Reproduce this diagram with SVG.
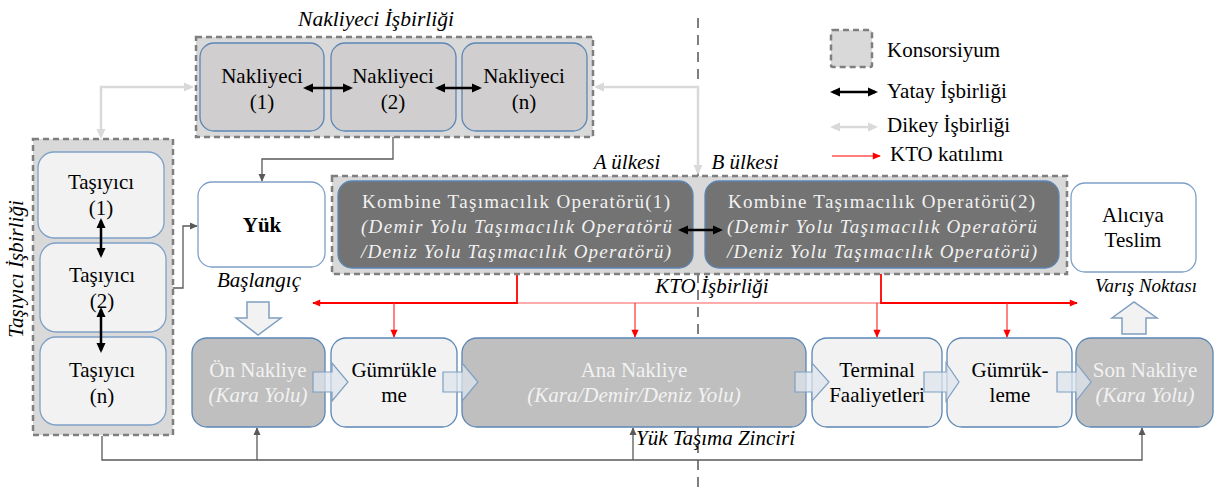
<svg xmlns="http://www.w3.org/2000/svg" width="1219" height="488" viewBox="0 0 1219 488" font-family="'Liberation Serif', Tinos, 'Times New Roman', 'Noto Serif', 'DejaVu Serif', serif">
<defs>
<style>
text { font-family: "Liberation Serif", Tinos, "Times New Roman", "Noto Serif", "DejaVu Serif", serif; font-size: 21px; fill: #000; }
.it { font-style: italic; }
.lt { fill: #f2f2f2; }
.c { text-anchor: middle; }
.kt { font-size: 19px; }
.cons { fill: #d9d9d9; stroke: #7f7f7f; stroke-width: 2.5; stroke-dasharray: 6 4; }
.bx { stroke: #5b86b5; stroke-width: 1.3; }
.bxl { stroke: #7da0c8; stroke-width: 1.3; }
.gray { fill: #bfbfbf; }
.pale { fill: #f2f2f2; }
.wh { fill: #ffffff; }
.dk { fill: #737373; }
.nk { fill: #d0cece; }
.blk { stroke: #000; stroke-width: 2.5; fill: none; marker-start: url(#mb); marker-end: url(#mb); }
.dik { stroke: #d9d9d9; stroke-width: 2.5; fill: none; marker-start: url(#mg); marker-end: url(#mg); }
.red { stroke: #ff0000; stroke-width: 1.8; fill: none; }
.pink { stroke: #ff9090; stroke-width: 1.5; fill: none; }
.redt { stroke: #ff3030; stroke-width: 1.2; fill: none; marker-end: url(#mr); }
.dg { stroke: #595959; stroke-width: 1.3; fill: none; }
.dga { marker-end: url(#md); }
.barrow { fill: #f2f2f2; stroke: #7f9fc0; stroke-width: 1.5; }
.chev { fill: #dde4ec; fill-opacity: 0.75; stroke: #7f9fc0; stroke-width: 1.2; }
</style>
<marker id="mb" viewBox="0 0 10 10" refX="7" refY="5" markerWidth="10" markerHeight="10" markerUnits="userSpaceOnUse" orient="auto-start-reverse"><path d="M0,0.5 L10,5 L0,9.5 Z" fill="#000"/></marker>
<marker id="mg" viewBox="0 0 10 10" refX="7" refY="5" markerWidth="11" markerHeight="10" markerUnits="userSpaceOnUse" orient="auto-start-reverse"><path d="M0,0.5 L10,5 L0,9.5 Z" fill="#d9d9d9"/></marker>
<marker id="mr" viewBox="0 0 10 10" refX="9" refY="5" markerWidth="9" markerHeight="8" markerUnits="userSpaceOnUse" orient="auto"><path d="M0,0.5 L10,5 L0,9.5 Z" fill="#ff0000"/></marker>
<marker id="md" viewBox="0 0 10 10" refX="9" refY="5" markerWidth="8" markerHeight="8" markerUnits="userSpaceOnUse" orient="auto"><path d="M0,0.5 L10,5 L0,9.5 Z" fill="#595959"/></marker>
</defs>

<rect width="1219" height="488" fill="#ffffff"/>

<!-- country divider -->
<line id="divider" x1="698" y1="18" x2="698" y2="488" stroke="#7f7f7f" stroke-width="2" stroke-dasharray="10 7"/>

<!-- connectors -->
<g id="connectors">
  <path class="dik" d="M191,87 H101 V136"/>
  <path class="dik" d="M597,87 H698 V172"/>
  <path class="dg dga" d="M393,137 V159 H262 V181"/>
  <path class="dg dga" d="M173,288 H183 V226 H197"/>
  <path class="dg dga" d="M102,436 V460 H1142 V428"/>
  <path class="dg dga" d="M257,460 V428"/>
  <path class="dg dga" d="M633,460 V428"/>
  <path class="pink" d="M517,303 H881"/>
  <path class="red" d="M517,268 V303 H313" marker-end="url(#mr)"/>
  <path class="red" d="M881,268 V303 H1077" marker-end="url(#mr)"/>
  <path class="redt" d="M394,303 V337"/>
  <path class="redt" d="M635,303 V337"/>
  <path class="redt" d="M877,303 V337"/>
  <path class="redt" d="M1007,303 V337"/>
</g>

<!-- Nakliyeci consortium -->
<g id="nakliyeci-konsorsiyum">
  <rect class="cons" x="196" y="37" width="397" height="100"/>
  <text class="it c" x="376" y="26" style="font-size:21.5px">Nakliyeci İşbirliği</text>
</g>
<g id="nakliyeci-1">
  <rect class="bx nk" x="200" y="43" width="124" height="88" rx="14"/>
  <text class="c" x="262" y="83">Nakliyeci</text>
  <text class="c" x="262" y="109">(1)</text>
</g>
<g id="nakliyeci-2">
  <rect class="bx nk" x="331" y="43" width="125" height="88" rx="14"/>
  <text class="c" x="393" y="83">Nakliyeci</text>
  <text class="c" x="393" y="109">(2)</text>
</g>
<g id="nakliyeci-n">
  <rect class="bx nk" x="462" y="43" width="125" height="88" rx="14"/>
  <text class="c" x="524" y="83">Nakliyeci</text>
  <text class="c" x="524" y="109">(n)</text>
</g>

<!-- Tasiyici consortium -->
<g id="tasiyici-konsorsiyum">
  <rect class="cons" x="33" y="139" width="140" height="296"/>
  <text class="it c" transform="translate(23,269) rotate(-90)">Taşıyıcı İşbirliği</text>
</g>
<g id="tasiyici-1">
  <rect class="bxl pale" x="38" y="152" width="126" height="86" rx="16"/>
  <text class="c" x="101" y="189">Taşıyıcı</text>
  <text class="c" x="101" y="215">(1)</text>
</g>
<g id="tasiyici-2">
  <rect class="bxl pale" x="40" y="243" width="126" height="89" rx="16"/>
  <text class="c" x="102" y="282">Taşıyıcı</text>
  <text class="c" x="102" y="308">(2)</text>
</g>
<g id="tasiyici-n">
  <rect class="bxl pale" x="40" y="337" width="126" height="88" rx="16"/>
  <text class="c" x="102" y="377">Taşıyıcı</text>
  <text class="c" x="102" y="403">(n)</text>
</g>
<path class="blk" d="M101,221 V255"/>
<path class="blk" d="M101,310 V350"/>
<path class="blk" d="M306,88 H350"/>
<path class="blk" d="M438,88 H479"/>

<!-- Yük -->
<g id="yuk">
  <rect class="bxl wh" x="198" y="182" width="127" height="85" rx="14"/>
  <text class="c" x="262" y="232" font-weight="bold">Yük</text>
</g>

<!-- KTO consortium -->
<g id="kto-konsorsiyum">
  <rect class="cons" x="332" y="176" width="735" height="98"/>
  <text class="it c" x="627" y="169">A ülkesi</text>
  <text class="it c" x="745" y="169">B ülkesi</text>
</g>
<g id="kto-1">
  <rect class="bx dk" x="338" y="181" width="355" height="87" rx="14"/>
  <text class="lt kt" x="362" y="208" textLength="308" lengthAdjust="spacing">Kombine Taşımacılık Operatörü(1)</text>
  <text class="lt kt it" x="361" y="233" textLength="311" lengthAdjust="spacing">(Demir Yolu Taşımacılık Operatörü</text>
  <text class="lt kt it" x="361" y="258" textLength="310" lengthAdjust="spacing">/Deniz Yolu Taşımacılık Operatörü)</text>
</g>
<g id="kto-2">
  <rect class="bx dk" x="705" y="181" width="354" height="87" rx="14"/>
  <text class="lt kt" x="728" y="208" textLength="307" lengthAdjust="spacing">Kombine Taşımacılık Operatörü(2)</text>
  <text class="lt kt it" x="727" y="233" textLength="310" lengthAdjust="spacing">(Demir Yolu Taşımacılık Operatörü</text>
  <text class="lt kt it" x="727" y="258" textLength="310" lengthAdjust="spacing">/Deniz Yolu Taşımacılık Operatörü)</text>
</g>
<path class="blk" d="M681,230 H720"/>

<!-- Alıcıya Teslim -->
<g id="aliciya-teslim">
  <rect class="bxl wh" x="1071" y="183" width="125" height="89" rx="14"/>
  <text class="c" x="1133" y="222">Alıcıya</text>
  <text class="c" x="1133" y="247">Teslim</text>
</g>

<text class="it c" x="259" y="287">Başlangıç</text>
<text class="it c" x="712" y="293">KTO İşbirliği</text>
<text class="it c" x="1146" y="292" style="font-size:19px">Varış Noktası</text>
<text class="it" x="636" y="445">Yük Taşıma Zinciri</text>

<!-- block arrows start / end -->
<path id="baslangic-ok" class="barrow" d="M247,302 H269 V318 H281 L258,335 L236,318 H247 Z"/>
<path id="varis-ok" class="barrow" d="M1122,334 V318 H1112 L1134,302 L1157,318 H1146 V334 Z"/>

<!-- chain -->
<g id="on-nakliye">
  <rect class="bx gray" x="192" y="338" width="133" height="89" rx="15"/>
  <text class="c lt" x="258" y="377">Ön Nakliye</text>
  <text class="c lt it" x="258" y="402">(Kara Yolu)</text>
</g>
<g id="gumrukleme-1">
  <rect class="bx pale" x="331" y="338" width="126" height="89" rx="15"/>
  <text class="c" x="394" y="377">Gümrükle</text>
  <text class="c" x="394" y="402">me</text>
</g>
<g id="ana-nakliye">
  <rect class="bx gray" x="462" y="338" width="344" height="89" rx="15"/>
  <text class="c lt" x="634" y="377">Ana Nakliye</text>
  <text class="c lt it" x="634" y="402">(Kara/Demir/Deniz Yolu)</text>
</g>
<g id="terminal">
  <rect class="bx pale" x="812" y="338" width="130" height="89" rx="15"/>
  <text class="c" x="877" y="377">Terminal</text>
  <text class="c" x="877" y="402">Faaliyetleri</text>
</g>
<g id="gumrukleme-2">
  <rect class="bx pale" x="947" y="338" width="125" height="89" rx="15"/>
  <text class="c" x="1010" y="377">Gümrük-</text>
  <text class="c" x="1010" y="402">leme</text>
</g>
<g id="son-nakliye">
  <rect class="bx gray" x="1076" y="338" width="137" height="89" rx="15"/>
  <text class="c lt" x="1145" y="377">Son Nakliye</text>
  <text class="c lt it" x="1145" y="402">(Kara Yolu)</text>
</g>
<g id="chain-arrows">
  <path class="chev" d="M313,372 H332 V363 L348,382 L332,401 V392 H313 Z"/>
  <path class="chev" d="M443,372 H462 V363 L478,382 L462,401 V392 H443 Z"/>
  <path class="chev" d="M795,372 H812 V363 L829,382 L812,401 V392 H795 Z"/>
  <path class="chev" d="M924,372 H946 V363 L959,382 L946,401 V392 H924 Z"/>
  <path class="chev" d="M1057,372 H1076 V363 L1091,382 L1076,401 V392 H1057 Z"/>
</g>

<!-- legend -->
<g id="legend">
  <rect class="cons" x="831" y="30" width="41" height="37" rx="2"/>
  <text x="887" y="57">Konsorsiyum</text>
  <path class="blk" d="M833,92 H875"/>
  <text x="887" y="98">Yatay İşbirliği</text>
  <path class="dik" d="M833,127 H875"/>
  <text x="887" y="132">Dikey İşbirliği</text>
  <path class="redt" d="M832,156 H880" style="stroke:#ff0000"/>
  <text x="890" y="161">KTO katılımı</text>
</g>
</svg>
